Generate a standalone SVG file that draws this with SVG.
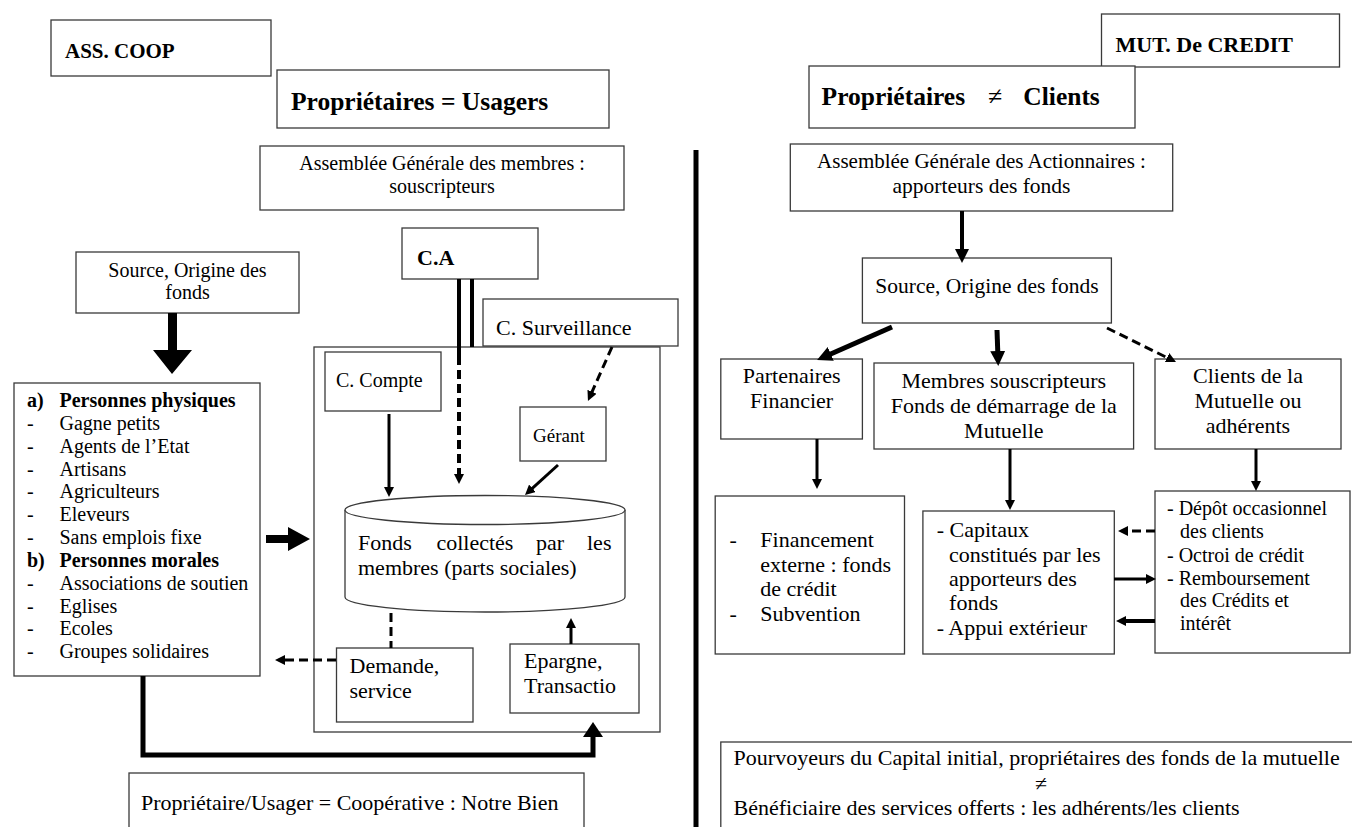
<svg xmlns="http://www.w3.org/2000/svg" width="1352" height="827" viewBox="0 0 1352 827" font-size="22">
<style>
.bg{fill:#fff}
.box{fill:#fff;stroke:#3a3a3a;stroke-width:1.3}
.t{font-family:"Liberation Serif","Times New Roman",serif;fill:#000}
.b{font-weight:bold}
.m{text-anchor:middle}
.c{stroke:#000;fill:none}
.d{stroke-dasharray:9 5}
.pf{fill:#000;stroke:none}
</style>
<defs>
<marker id="ah" viewBox="0 0 10 10" refX="5" refY="5" markerWidth="10" markerHeight="10" markerUnits="userSpaceOnUse" orient="auto"><path d="M0,0 L10,5 L0,10 z" fill="#000"/></marker>
<marker id="ahL" viewBox="0 0 10 10" refX="5" refY="5" markerWidth="15" markerHeight="15" markerUnits="userSpaceOnUse" orient="auto"><path d="M0,0 L10,5 L0,10 z" fill="#000"/></marker>
</defs>
<rect class="bg" x="0" y="0" width="1352" height="827"/>

<!-- LEFT SIDE -->
<g id="ass-coop"><rect class="box" x="51" y="20" width="220" height="56"/><text class="t b" x="65" y="58" font-size="21">ASS. COOP</text></g>
<g id="prop-usagers"><rect class="box" x="277" y="70" width="332" height="58"/><text class="t b" x="291" y="110" font-size="25.5">Propriétaires = Usagers</text></g>
<g id="ag-membres"><rect class="box" x="260" y="146" width="364" height="64"/><text class="t m" x="442" y="170" font-size="20">Assemblée Générale des membres :</text><text class="t m" x="442" y="193" font-size="20">souscripteurs</text></g>
<g id="source-left"><rect class="box" x="76" y="252" width="223" height="61"/><text class="t m" x="187.5" y="277" font-size="20">Source, Origine des</text><text class="t m" x="187.5" y="299" font-size="20">fonds</text></g>
<g id="ca"><rect class="box" x="402" y="228" width="136" height="51"/><text class="t b" x="417" y="265">C.A</text></g>
<g id="cadre"><rect class="box" x="314" y="347" width="346" height="385"/></g>
<g id="surveillance"><rect class="box" x="483" y="299" width="195" height="47"/><text class="t" x="496" y="335">C. Surveillance</text></g>
<g id="compte"><rect class="box" x="325" y="352" width="116" height="59"/><text class="t" x="336" y="387" font-size="20">C. Compte</text></g>
<g id="gerant"><rect class="box" x="520" y="407" width="86" height="54"/><text class="t" x="533" y="442" font-size="19">Gérant</text></g>
<g id="fonds-collectes">
<path class="box" d="M345,510 L345,597 A140,15 0 0 0 625,597 L625,510"/>
<ellipse class="box" cx="485" cy="510" rx="140" ry="14.5"/>
<text class="t" y="550"><tspan x="358">Fonds</tspan><tspan x="436.4">collectés</tspan><tspan x="536">par</tspan><tspan x="587">les</tspan></text>
<text class="t" x="358" y="575">membres (parts sociales)</text>
</g>
<g id="personnes">
<rect class="box" x="14" y="383" width="246" height="293"/>
<g class="t" font-size="20">
<text class="b" x="27" y="407">a)</text><text class="b" x="59.5" y="407">Personnes physiques</text>
<text x="27" y="430">-</text><text x="59.5" y="430">Gagne petits</text>
<text x="27" y="453">-</text><text x="59.5" y="453">Agents de l’Etat</text>
<text x="27" y="476">-</text><text x="59.5" y="476">Artisans</text>
<text x="27" y="498">-</text><text x="59.5" y="498">Agriculteurs</text>
<text x="27" y="521">-</text><text x="59.5" y="521">Eleveurs</text>
<text x="27" y="544">-</text><text x="59.5" y="544">Sans emplois fixe</text>
<text class="b" x="27" y="567">b)</text><text class="b" x="59.5" y="567">Personnes morales</text>
<text x="27" y="590">-</text><text x="59.5" y="590">Associations de soutien</text>
<text x="27" y="613">-</text><text x="59.5" y="613">Eglises</text>
<text x="27" y="635">-</text><text x="59.5" y="635">Ecoles</text>
<text x="27" y="658">-</text><text x="59.5" y="658">Groupes solidaires</text>
</g>
</g>
<g id="demande"><rect class="box" x="336.5" y="648" width="136.5" height="74"/><text class="t" x="349.5" y="673">Demande,</text><text class="t" x="349.5" y="698">service</text></g>
<g id="epargne"><rect class="box" x="510" y="644" width="129" height="69"/><text class="t" x="524" y="668">Epargne,</text><text class="t" x="524" y="693">Transactio</text></g>
<g id="notre-bien"><rect class="box" x="129" y="773" width="455" height="90"/><text class="t" x="141" y="810">Propriétaire/Usager = Coopérative : Notre Bien</text></g>

<!-- RIGHT SIDE -->
<g id="mut-credit"><rect class="box" x="1101.5" y="14" width="238" height="53"/><text class="t b" x="1115.6" y="52" font-size="22">MUT. De CREDIT</text></g>
<g id="prop-clients"><rect class="box" x="809" y="66" width="326" height="62"/><text class="t b" x="821.6" y="105" font-size="25.5">Propriétaires</text><text class="t" x="988" y="105" font-size="26">≠</text><text class="t b" x="1023.3" y="105" font-size="25.5">Clients</text></g>
<g id="ag-actionnaires"><rect class="box" x="790.3" y="144" width="382.4" height="67"/><text class="t m" x="981.5" y="168" font-size="21">Assemblée Générale des Actionnaires :</text><text class="t m" x="981.5" y="193" font-size="21.5">apporteurs des fonds</text></g>
<g id="source-right"><rect class="box" x="862.4" y="258" width="249" height="65"/><text class="t m" x="987" y="293" font-size="21.5">Source, Origine des fonds</text></g>
<g id="partenaires"><rect class="box" x="720.8" y="359" width="141.6" height="80"/><text class="t m" x="791.6" y="383">Partenaires</text><text class="t m" x="791.6" y="408">Financier</text></g>
<g id="membres"><rect class="box" x="874" y="363" width="259.6" height="86"/><text class="t m" x="1003.8" y="388">Membres souscripteurs</text><text class="t m" x="1003.8" y="413">Fonds de démarrage de la</text><text class="t m" x="1003.8" y="438">Mutuelle</text></g>
<g id="clients"><rect class="box" x="1155" y="359" width="186" height="90"/><text class="t m" x="1248" y="383">Clients de la</text><text class="t m" x="1248" y="408">Mutuelle ou</text><text class="t m" x="1248" y="433">adhérents</text></g>
<g id="financement"><rect class="box" x="715.2" y="496" width="189.3" height="158"/>
<text class="t" x="729.4" y="547">-</text><text class="t" x="760.3" y="547">Financement</text>
<text class="t" x="760.3" y="571.5">externe : fonds</text>
<text class="t" x="760.3" y="596">de crédit</text>
<text class="t" x="729.4" y="620.5">-</text><text class="t" x="760.3" y="620.5">Subvention</text></g>
<g id="capitaux"><rect class="box" x="922.9" y="511" width="191.4" height="143"/>
<text class="t" x="936.7" y="537">- Capitaux</text>
<text class="t" x="949.1" y="562">constitués par les</text>
<text class="t" x="949.1" y="586">apporteurs des</text>
<text class="t" x="949.1" y="610">fonds</text>
<text class="t" x="936.7" y="635">- Appui extérieur</text></g>
<g id="depot"><rect class="box" x="1155" y="491" width="195" height="162"/>
<g class="t" font-size="20">
<text x="1167" y="515">- Dépôt occasionnel</text>
<text x="1180" y="538">des clients</text>
<text x="1167" y="562">- Octroi de crédit</text>
<text x="1167" y="585">- Remboursement</text>
<text x="1180" y="607">des Crédits et</text>
<text x="1180" y="630">intérêt</text>
</g></g>
<g id="pourvoyeurs"><rect class="box" x="720.8" y="742" width="700" height="120"/>
<text class="t" x="733.6" y="765">Pourvoyeurs du Capital initial, propriétaires des fonds de la mutuelle</text>
<text class="t m" x="1041" y="791" font-size="22">≠</text>
<text class="t" x="733.6" y="815">Bénéficiaire des services offerts : les adhérents/les clients</text></g>

<!-- CONNECTORS -->
<g id="connectors">
<line class="c" x1="696" y1="150" x2="696" y2="827" stroke-width="5"/>
<polygon class="pf" points="168,313 177,313 177,350 192,350 172,374 153,350 168,350"/>
<line class="c" x1="459" y1="279" x2="459" y2="356" stroke-width="4"/>
<line class="c d" x1="459" y1="356" x2="459" y2="479" stroke-width="4" marker-end="url(#ah)"/>
<line class="c" x1="472" y1="279" x2="472" y2="347" stroke-width="4"/>
<line class="c d" x1="612" y1="347" x2="590" y2="396.4" stroke-width="3" marker-end="url(#ah)"/>
<line class="c" x1="389" y1="414" x2="389" y2="492" stroke-width="3" marker-end="url(#ah)"/>
<line class="c" x1="558" y1="465" x2="528.7" y2="491.6" stroke-width="3" marker-end="url(#ah)"/>
<line class="c d" x1="391" y1="613" x2="391" y2="648" stroke-width="3"/>
<line class="c d" x1="336" y1="660" x2="280" y2="660" stroke-width="3" marker-end="url(#ah)"/>
<line class="c" x1="571" y1="644" x2="571" y2="623" stroke-width="3" marker-end="url(#ah)"/>
<polygon class="pf" points="266,535 288,535 288,527 310,539 288,551 288,543 266,543"/>
<polyline class="c" points="143,676 143,755 593,755 593,736" stroke-width="5"/>
<polygon class="pf" points="583,737 603,737 593,722"/>
<line class="c" x1="962" y1="211" x2="962" y2="250" stroke-width="4"/>
<polygon class="pf" points="955,249 969,249 962,263"/>
<line class="c" x1="892" y1="327" x2="823.9" y2="357" stroke-width="5" marker-end="url(#ahL)"/>
<line class="c" x1="997" y1="330" x2="998" y2="358.5" stroke-width="5" marker-end="url(#ahL)"/>
<line class="c d" x1="1107" y1="328" x2="1171.5" y2="359.8" stroke-width="3" marker-end="url(#ah)"/>
<line class="c" x1="817" y1="439" x2="817" y2="484" stroke-width="3" marker-end="url(#ah)"/>
<line class="c" x1="1010" y1="449" x2="1010" y2="505" stroke-width="3" marker-end="url(#ah)"/>
<line class="c" x1="1256" y1="449" x2="1256" y2="486" stroke-width="3" marker-end="url(#ah)"/>
<line class="c d" x1="1155" y1="531" x2="1123" y2="531" stroke-width="3" marker-end="url(#ah)"/>
<line class="c" x1="1114" y1="579" x2="1151" y2="579" stroke-width="3" marker-end="url(#ah)"/>
<line class="c" x1="1155" y1="621" x2="1121" y2="621" stroke-width="4" marker-end="url(#ah)"/>
</g>
</svg>
